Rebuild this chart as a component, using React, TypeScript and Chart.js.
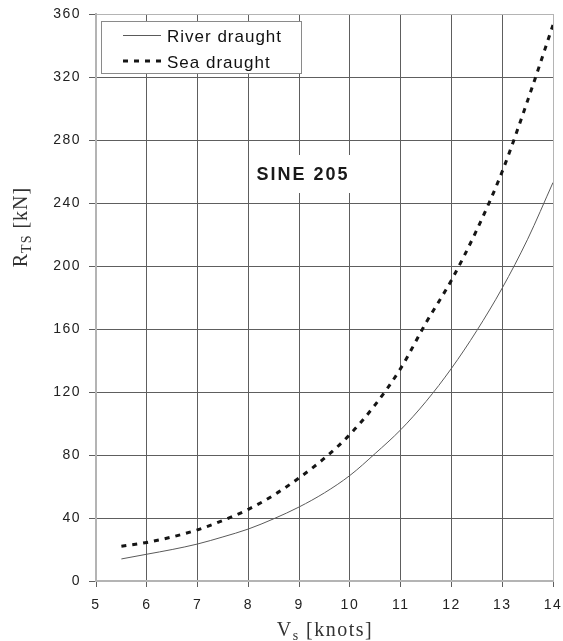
import React, { useEffect, useRef } from "react";
import { Chart, registerables } from "chart.js";

Chart.register(...registerables);

// ---- data ----
const speeds = [5.5, 6, 6.5, 7, 7.5, 8, 8.5, 9, 9.5, 10, 10.5, 11, 11.5, 12, 12.5, 13, 13.5, 14];
const riverDraught = [14, 17, 20, 23.5, 28, 33, 39.5, 47, 56, 67, 81, 96, 114, 135, 159, 186, 217, 253];
const seaDraught = [22, 24.5, 28, 32.5, 38.5, 45.5, 54.5, 65.5, 78, 93, 112, 135, 164, 191, 223, 260, 305, 353];
const seriesLabels = ["River draught", "Sea draught"];
const xRange = [5, 14];
const xStep = 1;
const yRange = [0, 360];
const yStep = 40;
const chartNote = "SINE 205";
const xTitleRuns = ["V", "s", " [knots]"];
const yTitleRuns = ["R", "TS", " [kN]"];

const SANS = "'Liberation Sans', Arial, sans-serif";
const SERIF = "'Liberation Serif', 'Times New Roman', serif";

type Run = { text: string; font: string; dy: number };

function drawRuns(ctx: CanvasRenderingContext2D, runs: Run[], cx: number, baseline: number, spacing: string) {
  (ctx as any).letterSpacing = spacing;
  let total = 0;
  const widths = runs.map((r) => {
    ctx.font = r.font;
    const w = ctx.measureText(r.text).width;
    total += w;
    return w;
  });
  let x = cx - total / 2;
  ctx.textAlign = "left";
  ctx.textBaseline = "alphabetic";
  runs.forEach((r, i) => {
    ctx.font = r.font;
    ctx.fillText(r.text, x, baseline + r.dy);
    x += widths[i];
  });
}

const decorPlugin = {
  id: "decor",
  beforeDraw(chart: any) {
    (chart.ctx as any).letterSpacing = "1.5px";
  },
  afterDraw(chart: any) {
    const ctx: CanvasRenderingContext2D = chart.ctx;
    ctx.save();

    // note box
    ctx.fillStyle = "#ffffff";
    ctx.fillRect(252, 155, 101, 38);
    ctx.fillStyle = "#1a1a1a";
    (ctx as any).letterSpacing = "2px";
    ctx.font = `bold 18px ${SANS}`;
    ctx.textAlign = "center";
    ctx.textBaseline = "middle";
    ctx.fillText(chartNote, 303, 175);

    // legend
    const lx = 101, ly = 21, lw = 200, lh = 52;
    ctx.fillStyle = "#ffffff";
    ctx.fillRect(lx, ly, lw, lh);
    ctx.strokeStyle = "#8a8a8a";
    ctx.lineWidth = 1;
    ctx.setLineDash([]);
    ctx.strokeRect(lx + 0.5, ly + 0.5, lw, lh);
    const sampleY = [35.5, 61];
    const textBase = [41.5, 68];
    chart.data.datasets.forEach((ds: any, i: number) => {
      ctx.save();
      ctx.strokeStyle = ds.borderColor;
      ctx.lineWidth = ds.borderWidth;
      ctx.setLineDash(ds.borderDash || []);
      ctx.beginPath();
      ctx.moveTo(123, sampleY[i]);
      ctx.lineTo(161, sampleY[i]);
      ctx.stroke();
      ctx.restore();
      ctx.fillStyle = "#111111";
      (ctx as any).letterSpacing = "1px";
      ctx.font = `17px ${SANS}`;
      ctx.textAlign = "left";
      ctx.textBaseline = "alphabetic";
      ctx.fillText(ds.label, 167, textBase[i]);
    });

    // axis titles
    ctx.fillStyle = "#333333";
    drawRuns(
      ctx,
      [
        { text: xTitleRuns[0], font: `20px ${SERIF}`, dy: 0 },
        { text: xTitleRuns[1], font: `14px ${SERIF}`, dy: 4 },
        { text: xTitleRuns[2], font: `20px ${SERIF}`, dy: 0 },
      ],
      325,
      636,
      "1.5px"
    );
    ctx.save();
    ctx.translate(27, 227);
    ctx.rotate(-Math.PI / 2);
    drawRuns(
      ctx,
      [
        { text: yTitleRuns[0], font: `20px ${SERIF}`, dy: 0 },
        { text: yTitleRuns[1], font: `14px ${SERIF}`, dy: 4 },
        { text: yTitleRuns[2], font: `20px ${SERIF}`, dy: 0 },
      ],
      0,
      0,
      "1px"
    );
    ctx.restore();

    ctx.restore();
    (ctx as any).letterSpacing = "0px";
  },
};

export default function App() {
  const ref = useRef<HTMLCanvasElement>(null);

  useEffect(() => {
    const canvas = ref.current;
    if (!canvas) return;
    const gridDark = "#5e5e5e";
    const edge = "#b4b4b4";
    const chart = new Chart(canvas, {
      type: "line",
      data: {
        datasets: [
          {
            label: seriesLabels[0],
            data: speeds.map((x, i) => ({ x, y: riverDraught[i] })),
            borderColor: "#5a5a5a",
            borderWidth: 1,
            pointRadius: 0,
            fill: false,
            cubicInterpolationMode: "monotone",
          },
          {
            label: seriesLabels[1],
            data: speeds.map((x, i) => ({ x, y: seaDraught[i] })),
            borderColor: "#151515",
            borderWidth: 3,
            borderDash: [5, 6],
            pointRadius: 0,
            fill: false,
            cubicInterpolationMode: "monotone",
          },
        ],
      },
      options: {
        responsive: false,
        animation: false,
        devicePixelRatio: 1,
        layout: { padding: { top: 14, right: 10, left: 0, bottom: 0 } },
        plugins: { legend: { display: false }, tooltip: { enabled: false } },
        scales: {
          x: {
            type: "linear",
            min: xRange[0],
            max: xRange[1],
            ticks: {
              stepSize: xStep,
              color: "#222222",
              font: { family: SANS, size: 14 },
              padding: 10,
              maxRotation: 0,
              autoSkip: false,
            },
            grid: {
              color: (c: any) => (c.tick && c.tick.value === xRange[1] ? edge : gridDark),
              tickColor: gridDark,
              lineWidth: 1,
              tickLength: 6,
            },
            border: { color: edge, width: 2 },
            afterFit: (s: any) => {
              s.height = 60;
              s.paddingLeft = 0;
              s.paddingRight = 0;
            },
          },
          y: {
            type: "linear",
            min: yRange[0],
            max: yRange[1],
            ticks: {
              stepSize: yStep,
              color: "#222222",
              font: { family: SANS, size: 14 },
              padding: 8,
            },
            grid: {
              color: (c: any) => (c.tick && c.tick.value === yRange[1] ? edge : gridDark),
              tickColor: gridDark,
              lineWidth: 1,
              tickLength: 7,
            },
            border: { color: edge, width: 2 },
            afterFit: (s: any) => {
              s.width = 96;
              s.paddingTop = 0;
              s.paddingBottom = 0;
            },
          },
        },
      } as any,
      plugins: [decorPlugin],
    });
    return () => chart.destroy();
  }, []);

  return (
    <div style={{ position: "absolute", left: 0, top: 0, width: 563, height: 641, background: "#ffffff" }}>
      <canvas ref={ref} width={563} height={641} style={{ display: "block", width: 563, height: 641 }} />
    </div>
  );
}
